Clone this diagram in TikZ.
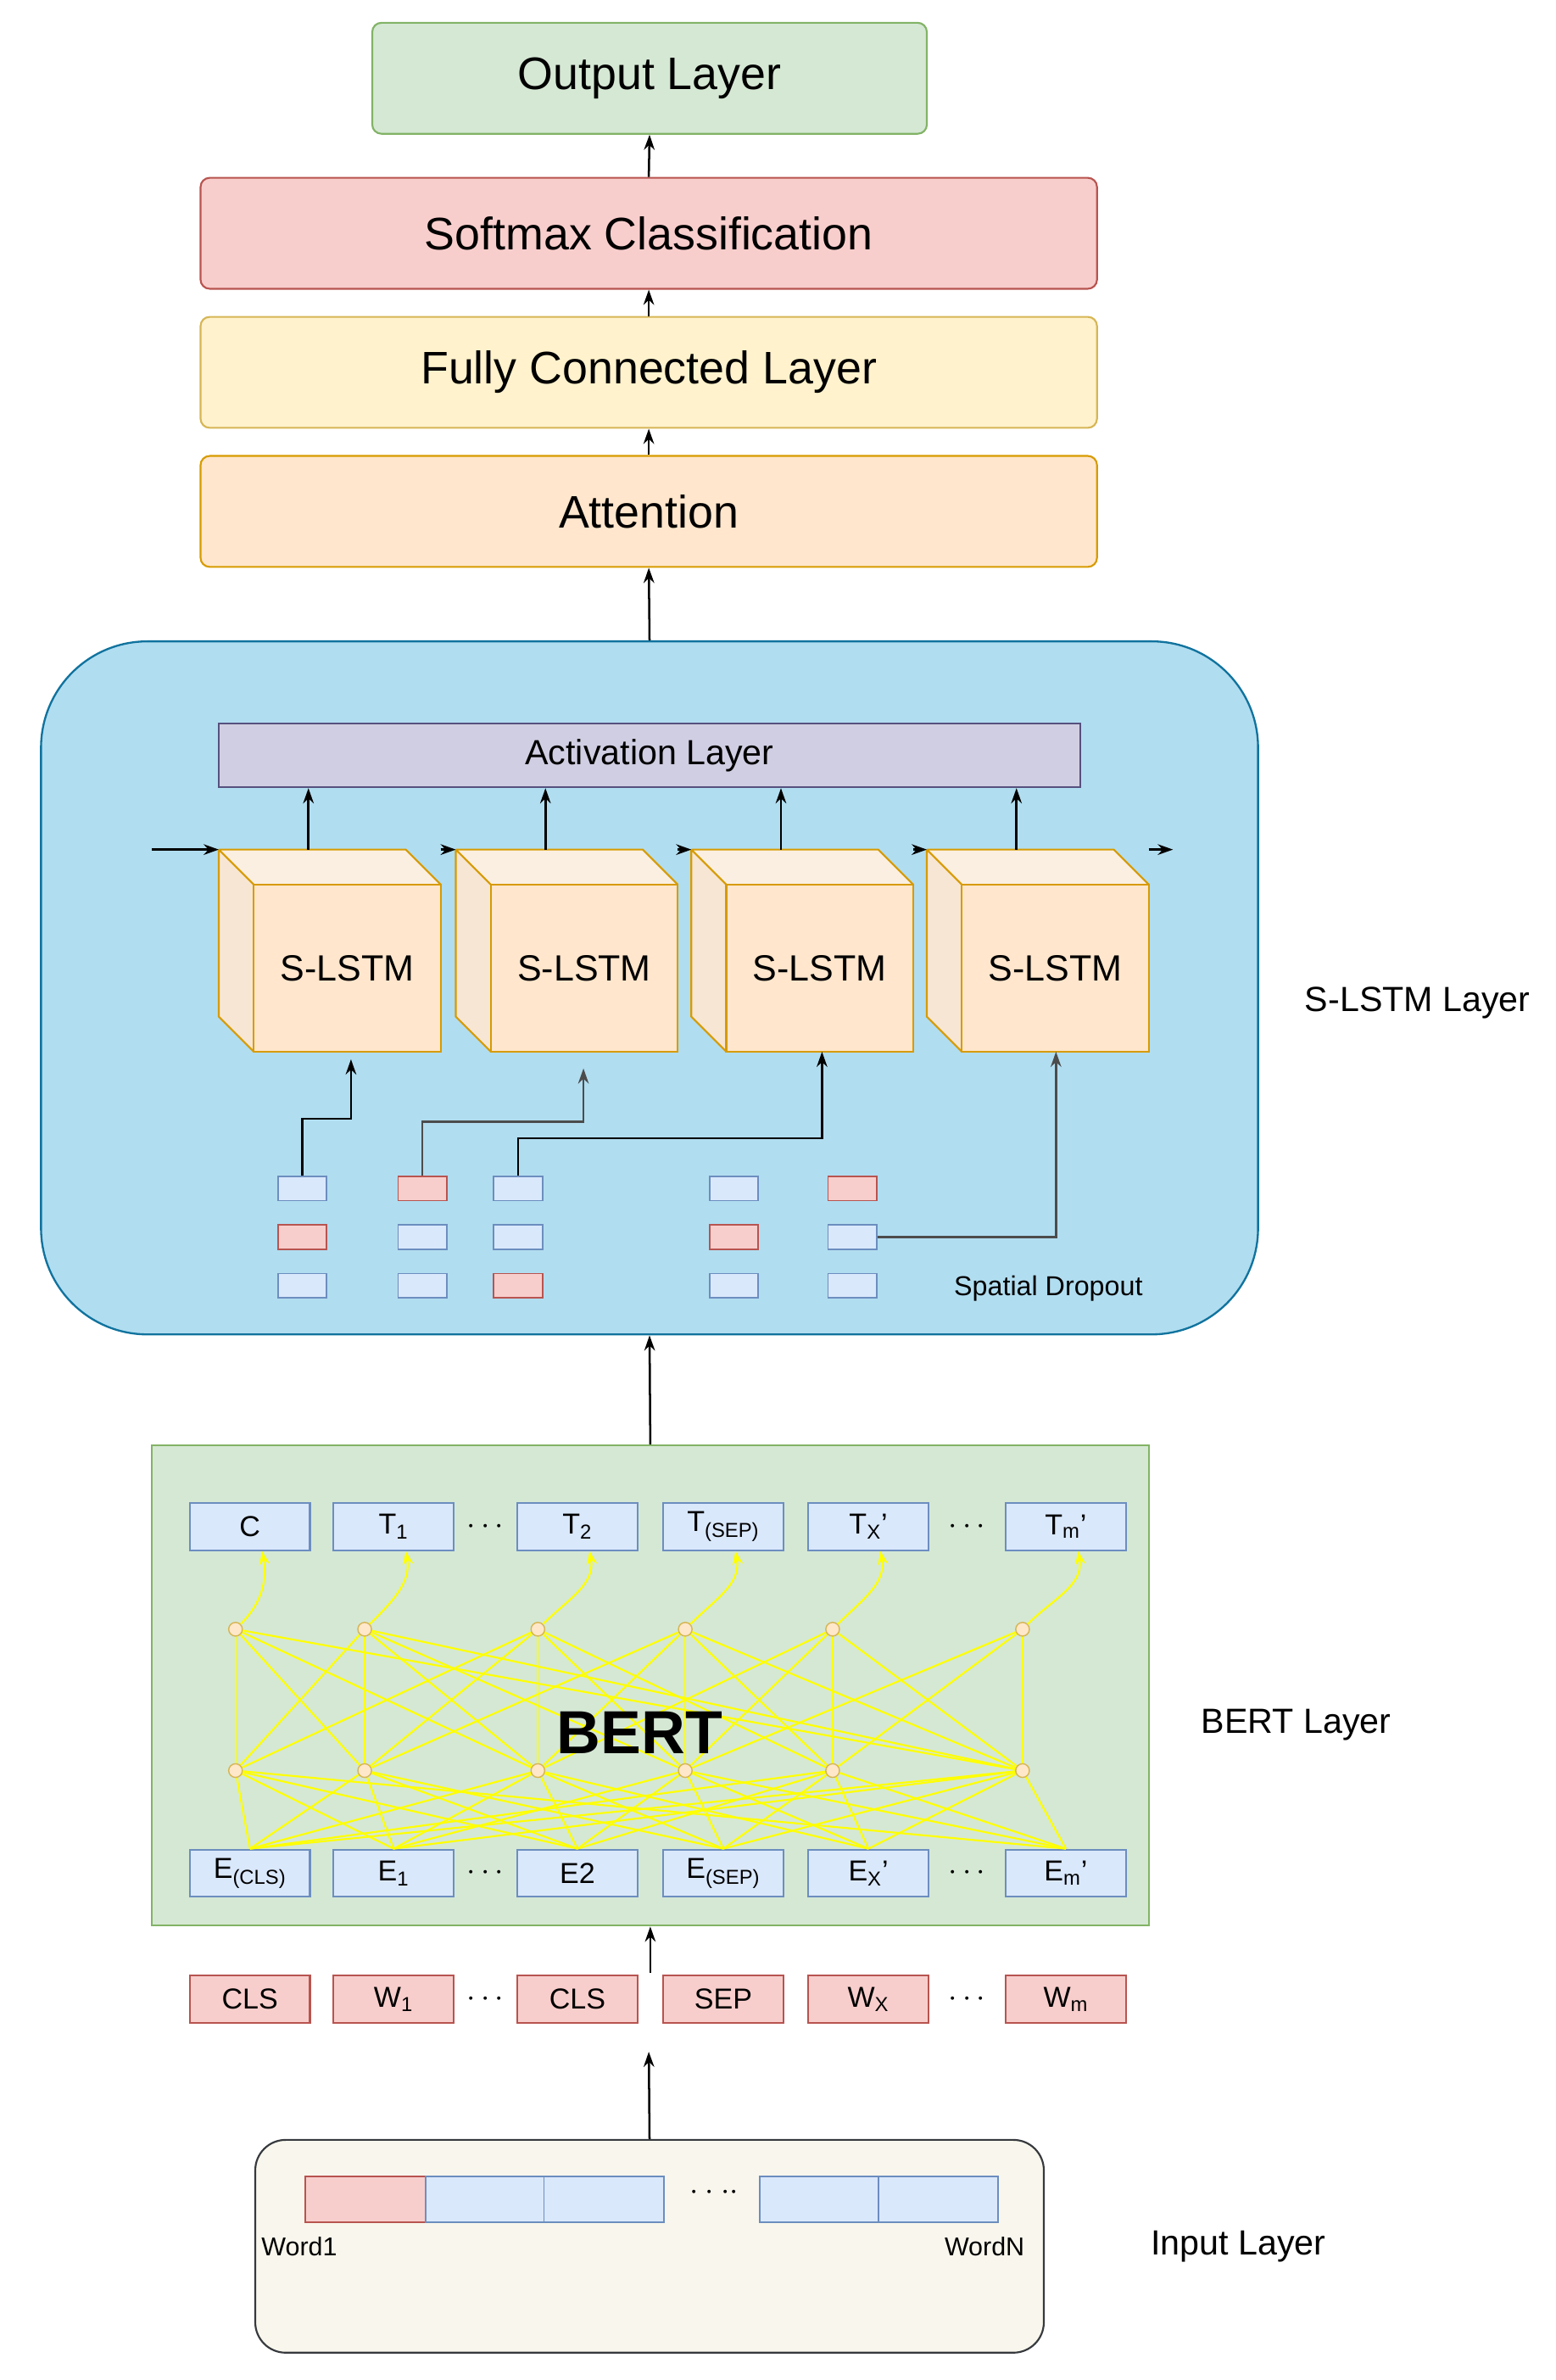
\documentclass[tikz,border=0pt]{standalone}
\usepackage{fontspec}
\setmainfont{Liberation Sans}
\usetikzlibrary{arrows.meta,calc}
\definecolor{gF}{HTML}{D5E8D4}\definecolor{gS}{HTML}{82B366}
\definecolor{rF}{HTML}{F8CECC}\definecolor{rS}{HTML}{B85450}
\definecolor{yF}{HTML}{FFF2CC}\definecolor{yS}{HTML}{D6B656}
\definecolor{oF}{HTML}{FFE6CC}\definecolor{oS}{HTML}{D79B00}
\definecolor{bF}{HTML}{B1DDF0}\definecolor{bS}{HTML}{10739E}
\definecolor{pF}{HTML}{D0CEE2}\definecolor{pS}{HTML}{56517E}
\definecolor{lbF}{HTML}{DAE8FC}\definecolor{lbS}{HTML}{6C8EBF}
\definecolor{iF}{HTML}{F9F7ED}\definecolor{iS}{HTML}{36393D}
\definecolor{yl}{HTML}{FFFF00}
\tikzset{
 x=1pt,y=-1pt,
 layer/.style={draw, line width=1.2pt, rounded corners=6pt, font=\fontsize{30}{32}\selectfont},
 arr/.style={-{Stealth[length=10pt,width=7pt]}, line width=1.4pt},
 tok/.style={draw=lbS, fill=lbF, line width=1.2pt, minimum width=79pt, minimum height=31pt, inner sep=0pt, font=\fontsize{19}{20}\selectfont},
 rtok/.style={tok, draw=rS, fill=rF},
 sq/.style={draw=lbS, fill=lbF, line width=1pt, minimum width=32pt, minimum height=16pt, inner sep=0pt},
 rsq/.style={sq, draw=rS, fill=rF},
 circ/.style={circle, draw=yS, fill=yF!60!orange!40, line width=0.8pt, minimum size=9pt, inner sep=0pt},
 yline/.style={draw=yl, line width=1.2pt},
 lbl/.style={font=\fontsize{23}{25}\selectfont},
 dts/.style={font=\fontsize{20}{20}\selectfont\bfseries}
}
\begin{document}
\begin{tikzpicture}
\useasboundingbox (0,0) rectangle (1024,1566);
% top layers
\node[layer, fill=gF, draw=gS, minimum width=365pt, minimum height=73pt] (out) at (427.5,51.5) {Output Layer};
\node[layer, fill=rF, draw=rS, minimum width=590pt, minimum height=73pt] (soft) at (427,153.5) {Softmax Classification};
\node[layer, fill=yF, draw=yS, minimum width=590pt, minimum height=73pt] (fc) at (427,245) {Fully Connected Layer};
\node[layer, fill=oF, draw=oS, minimum width=590pt, minimum height=73pt] (att) at (427,336.5) {Attention};
\draw[arr] (soft.north) -- (out.south);
\draw[arr] (fc.north) -- (soft.south);
\draw[arr] (att.north) -- (fc.south);
% S-LSTM layer
\node[draw=bS, fill=bF, line width=1.3pt, rounded corners=70pt, minimum width=801pt, minimum height=456pt] (sl) at (427.5,650) {};
\draw[arr] (sl.north) -- (att.south);
\node[draw=pS, fill=pF, line width=1.2pt, minimum width=567pt, minimum height=42pt, inner sep=0pt, font=\fontsize{23}{25}\selectfont] (act) at (427.5,497) {Activation Layer};
\foreach \i/\x in {1/144,2/300,3/455,4/610}{
  \fill[oF!85!brown!40] (\x,559) -- (\x+123,559) -- (\x+146,582) -- (\x+23,582) -- cycle;
  \fill[oF!75!brown!50] (\x,559) -- (\x+23,582) -- (\x+23,692) -- (\x,669) -- cycle;
  \draw[oS, line width=1.2pt, line join=round] (\x,559) -- (\x+123,559) -- (\x+146,582) (\x,559) -- (\x+23,582) (\x,559) -- (\x,669) -- (\x+23,692);
  \node[draw=oS, fill=oF, line width=1.2pt, minimum width=123pt, minimum height=110pt, inner sep=0pt, font=\fontsize{24}{26}\selectfont] (c\i) at (\x+84.5,637) {S-LSTM};
  \coordinate (ct\i) at (\x+59,559);
  \coordinate (cl\i) at (\x,559);
  \coordinate (cr\i) at (\x+146,559);
}
\foreach \i in {1,2,3,4}{\draw[arr] (ct\i) -- (ct\i|-act.south);}
\coordinate (hin) at (100,559); \coordinate (hout) at (772,559);
\draw[arr] (hin) -- (cl1);
\draw[arr] (cr1) -- (cl2);
\draw[arr] (cr2) -- (cl3);
\draw[arr] (cr3) -- (cl4);
\draw[arr] (cr4) -- (hout);
% dropout squares
\node[sq] (s11) at (199,782) {}; \node[rsq] (s12) at (199,814) {}; \node[sq] (s13) at (199,846) {};
\node[rsq] (s21) at (278,782) {}; \node[sq] (s22) at (278,814) {}; \node[sq] (s23) at (278,846) {};
\node[sq] (s31) at (341,782) {}; \node[sq] (s32) at (341,814) {}; \node[rsq] (s33) at (341,846) {};
\node[sq] (s41) at (483,782) {}; \node[rsq] (s42) at (483,814) {}; \node[sq] (s43) at (483,846) {};
\node[rsq] (s51) at (561,782) {}; \node[sq] (s52) at (561,814) {}; \node[sq] (s53) at (561,846) {};
\coordinate (a1) at (231,697); \coordinate (a2) at (384,703);
\coordinate (a3) at (541,692); \coordinate (a4) at (695,692);
\draw[arr] (s11.north) |- (231,736) -- (a1);
\draw[arr, draw=black!70] (s21.north) |- (384,738) -- (a2);
\draw[arr] (s31.north) |- (541,749) -- (a3);
\draw[arr, draw=black!70] (s52.east) -| (a4);
\node[font=\fontsize{18}{20}\selectfont] (sd) at (690,848) {Spatial Dropout};
\node[lbl] (sll) at (933,660) {S-LSTM Layer};
% BERT
\node[draw=gS, fill=gF, line width=1.2pt, minimum width=656pt, minimum height=316pt] (bert) at (428,1109) {};
\draw[arr] (bert.north) -- (sl.south);
\foreach \i/\x/\tt/\ee/\ww/\cx in {1/164.5/C/E\textsubscript{(CLS)}/CLS/155, 2/259/T\textsubscript{1}/E\textsubscript{1}/W\textsubscript{1}/240, 3/380/T\textsubscript{2}/E2/CLS/354, 4/476/T\textsubscript{(SEP)}/E\textsubscript{(SEP)}/SEP/451, 5/571.5/T\textsubscript{X}'/E\textsubscript{X}'/W\textsubscript{X}/548, 6/701.5/T\textsubscript{m}'/E\textsubscript{m}'/W\textsubscript{m}/673}{
  \node[tok] (T\i) at (\x,1004.5) {\tt};
  \node[tok] (E\i) at (\x,1232.5) {\ee};
  \node[rtok] (W\i) at (\x,1315.5) {\ww};
  \coordinate (bt\i) at (\cx,1072);
  \coordinate (bb\i) at (\cx,1165);
}
\foreach \a/\b in {2/3,5/6}{
  \node[dts] (d1\a) at ($(T\a.east)!0.5!(T\b.west)$) {$\cdots$};
  \node[dts] (d2\a) at ($(E\a.east)!0.5!(E\b.west)$) {$\cdots$};
  \node[dts] (d3\a) at ($(W\a.east)!0.5!(W\b.west)$) {$\cdots$};
}
\foreach \i in {1,...,6}{
  \foreach \j in {1,...,6}{
    \pgfmathtruncatemacro{\d}{abs(\i-\j)}
    \ifnum\d<3 \draw[yline] (bb\i) -- (bt\j); \draw[yline] (E\i.north) -- (bb\j);\fi
  }
}
\draw[yline] (bb6) -- (bt1); \draw[yline] (bb6) -- (bt2);
\draw[yline] (E1.north) -- (bb5); \draw[yline] (E1.north) -- (bb6);
\draw[yline] (E2.north) -- (bb6); \draw[yline] (E6.north) -- (bb1);
\foreach \i in {1,...,6}{
  \node[circ] (nt\i) at (bt\i) {};
  \node[circ] (nb\i) at (bb\i) {};
  \draw[yline, -{Stealth[length=9pt,width=7pt]}] (nt\i) to[out=45,in=-80] ($(T\i.south)+(8,0)$);
}
\node[font=\fontsize{40}{42}\selectfont\bfseries] (btx) at (421,1140) {BERT};
\node[lbl] (bl) at (853,1135) {BERT Layer};
\coordinate (wt) at (428,1298);
\draw[arr] (wt) -- (bert.south);
% input
\node[draw=iS, fill=iF, line width=1.2pt, rounded corners=20pt, minimum width=519pt, minimum height=140pt] (inp) at (427.5,1478) {};
\coordinate (it) at (427,1350);
\draw[arr] (inp.north) -- (it);
\node[draw=rS, fill=rF, line width=1pt, minimum width=79pt, minimum height=30pt] (i1) at (240.5,1447) {};
\node[draw=lbS, fill=lbF, line width=1pt, minimum width=78pt, minimum height=30pt] (i2) at (319,1447) {};
\node[draw=lbS, fill=lbF, line width=1pt, minimum width=79pt, minimum height=30pt] (i3) at (397.5,1447) {};
\node[draw=lbS, fill=lbF, line width=1pt, minimum width=78pt, minimum height=30pt] (i4) at (539,1447) {};
\node[draw=lbS, fill=lbF, line width=1pt, minimum width=79pt, minimum height=30pt] (i5) at (617.5,1447) {};
\node[dts] (id) at (470,1443) {$\cdot\cdot\cdot\cdot$};
\node[font=\fontsize{17}{19}\selectfont] (w1) at (197,1478) {Word1};
\node[font=\fontsize{17}{19}\selectfont] (wn) at (648,1478) {WordN};
\node[lbl] (il) at (815,1478) {Input Layer};
\end{tikzpicture}
\end{document}
